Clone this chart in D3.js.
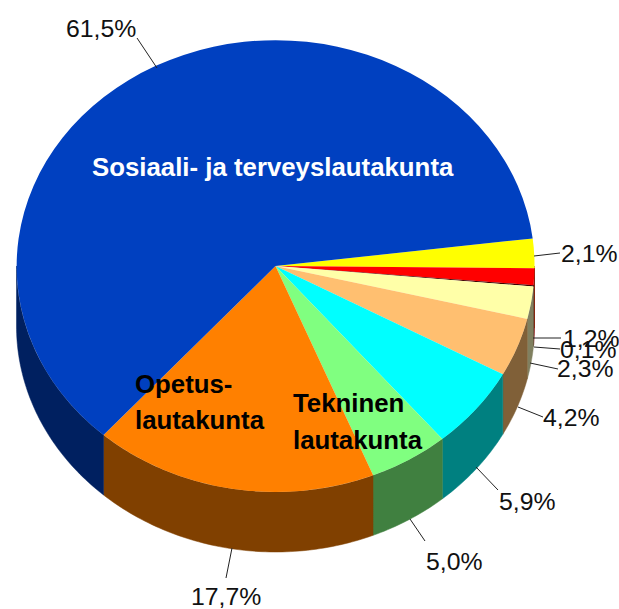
<!DOCTYPE html>
<html><head><meta charset="utf-8">
<script src="https://cdn.jsdelivr.net/npm/d3@7"></script>
<style>html,body{margin:0;padding:0;background:#fff}svg{display:block}text{font-family:"Liberation Sans",Arial,sans-serif}</style>
</head><body><svg id="c" width="619" height="609"></svg>
<script>
const categories=["Keltainen","Punainen","Pieni","Vaaleankeltainen","Vaaleanoranssi","Syaani","Tekninen lautakunta","Opetuslautakunta","Sosiaali- ja terveyslautakunta"];
const values=[2.1,1.2,0.1,2.3,4.2,5.9,5.0,17.7,61.5];
const valueLabels=["2,1%","1,2%","0,1%","2,3%","4,2%","5,9%","5,0%","17,7%","61,5%"];
const topColors=["#ffff00","#ff0000","#400000","#ffffa8","#ffbf70","#00ffff","#80ff80","#ff8000","#0040c0"];
const wallColors=["#808000","#800000","#300000","#808060","#806038","#008080","#408040","#804000","#002060"];
const labelPos=[[561,262],[563,347],[560,358],[557,377],[543,426],[499,510],[426,570],[191,605],[66,37]];
const leaders=[[[534,256],[560,253]],[[533,338],[561,338]],[[534,347],[560,349]],[[530,363],[558,369]],[[518,407],[543,417]],[[476,467],[498,490]],[[410,519],[425,541]],[[232,548],[226,578]],[[157,68],[137,38]]];
const startDeg=83.0, cx=275.5, cy=266, rx=259, ry=226, depth=60;

const svg=d3.select("#c");
const angle=d3.scaleLinear().domain([0,100]).range([startDeg*Math.PI/180,(startDeg+360)*Math.PI/180]);
const pie=d3.pie().sort(null).value(d=>d).startAngle(angle(0)).endAngle(angle(100));
const arcs=pie(values);
const px=d3.scaleLinear().domain([-1,1]).range([cx-rx,cx+rx]);
const py=d3.scaleLinear().domain([-1,1]).range([cy-ry,cy+ry]);
const pt=a=>[px(Math.sin(a)),py(-Math.cos(a))];

// Visible outer wall: angular range between 90 and 270 degrees (plus full turn)
const lo=Math.PI/2, hi=3*Math.PI/2;
const line=d3.line();
arcs.forEach((s,i)=>{
  const ranges=[[s.startAngle,s.endAngle],[s.startAngle-2*Math.PI,s.endAngle-2*Math.PI]];
  ranges.forEach(([a0,a1])=>{
    const b0=Math.max(a0,lo), b1=Math.min(a1,hi);
    if(b1<=b0) return;
    const n=Math.ceil((b1-b0)*60)+1;
    const as=d3.range(n+1).map(k=>b0+(b1-b0)*k/n);
    const top=as.map(pt), bot=as.map(pt).map(p=>[p[0],p[1]+depth]).reverse();
    svg.append("path").attr("d",line(top.concat(bot))+"Z").attr("fill",wallColors[i]).attr("stroke",wallColors[i]).attr("stroke-width",0.5);
  });
});

// Top face
const arc=d3.arc().innerRadius(0).outerRadius(1);
const g=svg.append("g").attr("transform",`translate(${cx},${cy}) scale(${rx},${ry})`);
g.selectAll("path").data(arcs).join("path").attr("d",arc).attr("fill",(d,i)=>topColors[i]);

// Leader lines
svg.selectAll("path.lead").data(leaders).join("path").attr("class","lead").attr("d",line).attr("fill","none").attr("stroke","#222").attr("stroke-width",1);

// Value labels
svg.selectAll("text.v").data(valueLabels).join("text").attr("class","v")
  .attr("x",(d,i)=>labelPos[i][0]).attr("y",(d,i)=>labelPos[i][1])
  .attr("font-size",24.8).attr("fill","#111").text(d=>d);

// Category labels
const catLabels=[
 {t:"Sosiaali- ja terveyslautakunta",x:92,y:176,f:"#fff",s:25.8},
 {t:"Opetus-",x:135,y:393,f:"#000",s:25.8},
 {t:"lautakunta",x:135,y:429,f:"#000",s:25.8},
 {t:"Tekninen",x:293,y:412,f:"#000",s:25.8},
 {t:"lautakunta",x:293,y:449,f:"#000",s:25.8}];
svg.selectAll("text.c").data(catLabels).join("text").attr("class","c")
  .attr("x",d=>d.x).attr("y",d=>d.y).attr("font-size",d=>d.s).attr("font-weight","bold").attr("fill",d=>d.f).text(d=>d.t);
</script></body></html>
